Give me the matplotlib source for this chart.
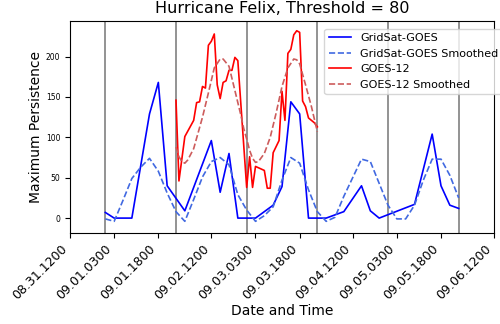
import matplotlib
matplotlib.use("Agg")
import matplotlib.pyplot as plt

# hours since 08.31 12:00
tick_hours = [0, 15, 30, 48, 63, 78, 96, 111, 126, 144]
tick_labels = ["08.31.1200", "09.01.0300", "09.01.1800", "09.02.1200", "09.03.0300",
               "09.03.1800", "09.04.1200", "09.05.0300", "09.05.1800", "09.06.1200"]
day_lines = [12, 36, 60, 84, 108, 132]

gs_h = [12, 15, 21, 27, 30, 33, 39, 48, 51, 54, 57, 63, 69, 72, 75, 78, 81, 87, 93, 99, 102, 105,
        117, 123, 126, 129, 132]
gs_v = [7, 0, 0, 129, 168, 40, 9, 96, 32, 80, 0, 0, 16, 39, 144, 129, 0, 0, 8, 40, 9, 0,
        17, 104, 40, 16, 12]

gss_h = [12, 15, 18, 21, 24, 27, 30, 33, 36, 39, 42, 45, 48, 51, 54, 57, 60, 63, 66, 69, 72, 75,
         78, 81, 84, 87, 90, 93, 96, 99, 102, 105, 108, 111, 114, 117, 120, 123, 126, 129, 132]
gss_v = [-1, -4, 22, 49, 63, 74, 58, 31, 8, -4, 23, 51, 70, 75, 66, 29, 10, -4, 3, 14, 47, 75,
         68, 35, 8, -4, 1, 27, 50, 73, 70, 43, 16, -1, -1, 16, 47, 73, 73, 53, 25]

g12_h = [36, 37, 39, 42, 43, 44, 45, 46, 47, 48, 49, 50, 51, 52, 53, 54, 55, 56, 57, 60, 61, 62,
         63, 66, 67, 68, 69, 71, 72, 73, 74, 75, 76, 77, 78, 79, 80, 81, 83, 84]
g12_v = [146, 46, 101, 121, 143, 144, 163, 161, 214, 219, 228, 165, 148, 168, 170, 183, 183, 199,
         195, 38, 76, 38, 64, 59, 37, 37, 81, 96, 157, 121, 204, 209, 227, 232, 230, 145, 138,
         124, 118, 113]

g12s_h = [36, 37, 38, 39, 40, 42, 44, 45, 47, 49, 51, 52, 54, 56, 58, 59, 60, 61, 62, 63, 64, 66,
          68, 70, 72, 74, 76, 77, 78, 80, 82, 84]
g12s_v = [88, 76, 70, 68, 72, 86, 112, 125, 155, 186, 197, 197, 188, 158, 128, 111, 98, 84, 74,
          69, 70, 80, 100, 130, 163, 186, 197, 196, 191, 165, 138, 107]

fig = plt.figure(figsize=(5.0, 3.24), dpi=100)
ax = fig.add_axes([0.14, 0.282, 0.848, 0.653])

for d in day_lines:
    ax.axvline(d, color="grey", lw=1.2)

ax.plot(gs_h, gs_v, color="blue", lw=1.2, label="GridSat-GOES")
ax.plot(gss_h, gss_v, color="royalblue", lw=1.2, ls="--", label="GridSat-GOES Smoothed")
ax.plot(g12_h, g12_v, color="red", lw=1.2, label="GOES-12")
ax.plot(g12s_h, g12s_v, color="indianred", lw=1.2, ls="--", label="GOES-12 Smoothed")

ax.set_xlim(0, 144)
ax.set_ylim(-18, 244)
ax.set_xticks(tick_hours)
ax.set_xticklabels(tick_labels, rotation=45, ha="right", fontsize=9)
ax.set_yticks([0, 50, 100, 150, 200])
ax.tick_params(axis="y", labelsize=5.5)
ax.set_title("Hurricane Felix, Threshold = 80", fontsize=11.5)
ax.set_xlabel("Date and Time", fontsize=10, labelpad=1)
ax.set_ylabel("Maximum Persistence", fontsize=10, labelpad=2)
ax.legend(loc="upper left", fontsize=8, bbox_to_anchor=(0.587, 0.99))

fig.savefig("out.png", dpi=100)
